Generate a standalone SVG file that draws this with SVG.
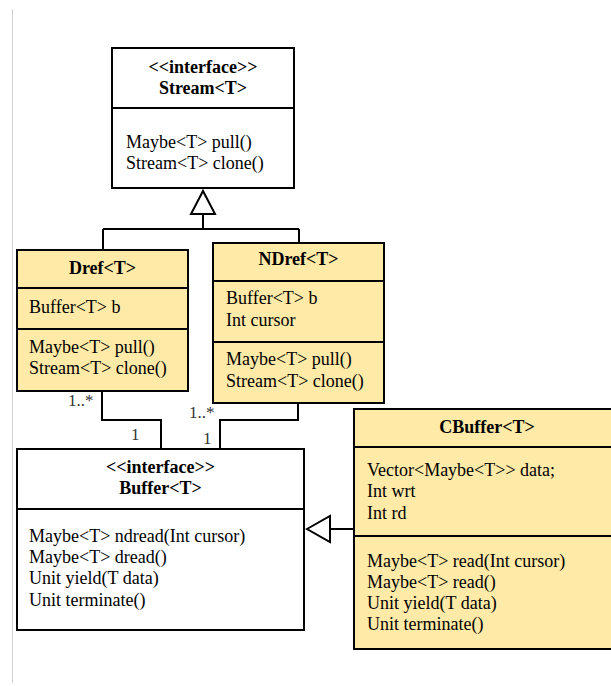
<svg xmlns="http://www.w3.org/2000/svg" width="611" height="686" viewBox="0 0 611 686">
<style>
.box{stroke:#000;stroke-width:2}
.w{fill:#fff}
.y{fill:#ffeaa7}
.t{font-family:"Liberation Serif","Times New Roman",serif;font-size:18px;fill:#000}
.b{font-weight:bold;text-anchor:middle}
.ln{fill:none;stroke:#000;stroke-width:2}
.lbl{font-family:"Liberation Serif","Times New Roman",serif;font-size:17px;fill:#333}
</style>
<rect width="611" height="686" fill="#fff"/>
<line x1="12.5" y1="9" x2="12.5" y2="683" stroke="#d0d0d0" stroke-width="1"/>

<g id="connectors">
<path class="ln" d="M203,214 V229 M103,229 H299 M103,229 V250 M299,229 V243"/>
<polygon points="203,191 191,214 215,214" fill="#fff" stroke="#000" stroke-width="2"/>
<path class="ln" d="M102,391 V420 H161 V449"/>
<path class="ln" d="M298,403 V420 H220 V449"/>
<path class="ln" d="M330,529 H354"/>
<polygon points="307,529 330,516 330,542" fill="#fff" stroke="#000" stroke-width="2"/>
<text class="lbl" x="68" y="406">1..*</text>
<text class="lbl" x="131" y="440">1</text>
<text class="lbl" x="189" y="418">1..*</text>
<text class="lbl" x="203" y="444">1</text>
</g>

<g id="stream">
<rect class="box w" x="112" y="48" width="182" height="140"/>
<line class="box" x1="112" y1="108" x2="294" y2="108"/>
<text class="t b" x="203" y="73">&lt;&lt;interface&gt;&gt;</text>
<text class="t b" x="203" y="94">Stream&lt;T&gt;</text>
<text class="t" x="126" y="148">Maybe&lt;T&gt; pull()</text>
<text class="t" x="126" y="169">Stream&lt;T&gt; clone()</text>
</g>

<g id="dref">
<rect class="box y" x="17" y="250" width="171" height="141"/>
<line class="box" x1="17" y1="288" x2="188" y2="288"/>
<line class="box" x1="17" y1="329" x2="188" y2="329"/>
<text class="t b" x="102.5" y="274">Dref&lt;T&gt;</text>
<text class="t" x="29" y="313">Buffer&lt;T&gt; b</text>
<text class="t" x="29" y="353">Maybe&lt;T&gt; pull()</text>
<text class="t" x="29" y="374">Stream&lt;T&gt; clone()</text>
</g>

<g id="ndref">
<rect class="box y" x="213" y="243" width="171" height="160"/>
<line class="box" x1="213" y1="281" x2="384" y2="281"/>
<line class="box" x1="213" y1="342" x2="384" y2="342"/>
<text class="t b" x="298.5" y="265">NDref&lt;T&gt;</text>
<text class="t" x="226" y="304">Buffer&lt;T&gt; b</text>
<text class="t" x="226" y="326">Int cursor</text>
<text class="t" x="226" y="365">Maybe&lt;T&gt; pull()</text>
<text class="t" x="226" y="387">Stream&lt;T&gt; clone()</text>
</g>

<g id="buffer">
<rect class="box w" x="17" y="449" width="287" height="181"/>
<line class="box" x1="17" y1="509" x2="304" y2="509"/>
<text class="t b" x="160.5" y="473">&lt;&lt;interface&gt;&gt;</text>
<text class="t b" x="160.5" y="494">Buffer&lt;T&gt;</text>
<text class="t" x="29" y="542">Maybe&lt;T&gt; ndread(Int cursor)</text>
<text class="t" x="29" y="563">Maybe&lt;T&gt; dread()</text>
<text class="t" x="29" y="584">Unit yield(T data)</text>
<text class="t" x="29" y="606">Unit terminate()</text>
</g>

<g id="cbuffer">
<rect class="box y" x="354" y="409" width="266" height="240"/>
<line class="box" x1="354" y1="447" x2="620" y2="447"/>
<line class="box" x1="354" y1="536" x2="620" y2="536"/>
<text class="t b" x="487" y="433">CBuffer&lt;T&gt;</text>
<text class="t" x="367" y="476">Vector&lt;Maybe&lt;T&gt;&gt; data;</text>
<text class="t" x="367" y="497">Int wrt</text>
<text class="t" x="367" y="519">Int rd</text>
<text class="t" x="367" y="567">Maybe&lt;T&gt; read(Int cursor)</text>
<text class="t" x="367" y="588">Maybe&lt;T&gt; read()</text>
<text class="t" x="367" y="609">Unit yield(T data)</text>
<text class="t" x="367" y="630">Unit terminate()</text>
</g>
</svg>
